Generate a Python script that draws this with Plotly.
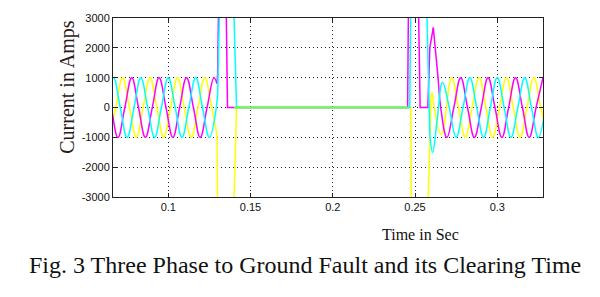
import plotly.graph_objects as go

# ---------------- data ----------------
# Phase "cyan" (steady state before fault, fault transient, after clearing)
cyan_pre_t = [0.0625, 0.0667, 0.0708, 0.0750, 0.0792, 0.0833, 0.0875, 0.0917, 0.0958,
              0.1000, 0.1042, 0.1083, 0.1125, 0.1167, 0.1208, 0.1250, 0.1292]
cyan_pre_i = [0, 1000, 0, -1000, 0, 1000, 0, -1000, 0,
              1000, 0, -1000, 0, 1000, 0, -1000, 0]
cyan_tr_t = [0.1292, 0.1300, 0.1312, 0.1398, 0.1415, 0.2468, 0.2474, 0.2571, 0.2590]
cyan_tr_i = [0, 400, 3400, 3400, 0, 0, 3400, 3400, -900]
cyan_post_t = [0.2590, 0.2607, 0.2635, 0.2667, 0.2708, 0.2750, 0.2792, 0.2833, 0.2875,
               0.2917, 0.2958, 0.3000, 0.3042, 0.3083, 0.3125, 0.3167, 0.3208, 0.3250,
               0.3292]
cyan_post_i = [-900, -1500, -400, 850, 0, -1000, 0, 1000, 0,
               -1000, 0, 1000, 0, -1000, 0, 1000, 0, -1000,
               0]

# Phase "yellow"
yellow_pre_t = [0.0639, 0.0681, 0.0722, 0.0764, 0.0806, 0.0847, 0.0889, 0.0931, 0.0972,
                0.1014, 0.1056, 0.1097, 0.1139, 0.1181, 0.1222, 0.1264, 0.1296]
yellow_pre_i = [-1000, 0, 1000, 0, -1000, 0, 1000, 0, -1000,
                0, 1000, 0, -1000, 0, 1000, 0, -920]
yellow_tr_t = [0.1296, 0.1300, 0.1398, 0.1415, 0.2474, 0.2478, 0.2578, 0.2598, 0.2604]
yellow_tr_i = [-920, -3400, -3400, 0, 0, -3400, -3400, 400, 500]
yellow_post_t = [0.2604, 0.2660, 0.2722, 0.2764, 0.2806, 0.2847, 0.2889, 0.2931, 0.2972,
                 0.3014, 0.3056, 0.3097, 0.3139, 0.3181, 0.3222, 0.3264, 0.3306]
yellow_post_i = [500, -900, 1000, 0, -1000, 0, 1000, 0, -1000,
                 0, 1000, 0, -1000, 0, 1000, 0, -1000]

# Phase "magenta"
magenta_pre_t = [0.0611, 0.0653, 0.0694, 0.0736, 0.0778, 0.0819, 0.0861, 0.0903, 0.0944,
                 0.0986, 0.1028, 0.1069, 0.1111, 0.1153, 0.1194, 0.1236, 0.1278, 0.1296]
magenta_pre_i = [1000, 0, -1000, 0, 1000, 0, -1000, 0, 1000,
                 0, -1000, 0, 1000, 0, -1000, 0, 1000, 800]
magenta_tr_t = [0.1296, 0.1300, 0.1306, 0.1352, 0.1360, 0.2455, 0.2460, 0.2521, 0.2531,
                0.2578, 0.2590, 0.2611]
magenta_tr_i = [800, 1100, 3400, 3400, 0, 0, 3400, 3400, 0,
                0, 2000, 2680]
magenta_post_t = [0.2611, 0.2640, 0.2656, 0.2694, 0.2736, 0.2778, 0.2819, 0.2861, 0.2903,
                  0.2944, 0.2986, 0.3028, 0.3069, 0.3111, 0.3153, 0.3194, 0.3236, 0.3278]
magenta_post_i = [2680, 1000, 0, -1000, 0, 1000, 0, -1000, 0,
                  1000, 0, -1000, 0, 1000, 0, -1000, 0, 1000]

# Zero-current interval (green trace while the breaker is open)
green_t = [0.1400, 0.2462]
green_i = [0, 0]

x_tickvals = [0.1, 0.15, 0.2, 0.25, 0.3]
x_ticktext = ["0.1", "0.15", "0.2", "0.25", "0.3"]
y_tickvals = [3000, 2000, 1000, 0, -1000, -2000, -3000]
y_ticktext = ["3000", "2000", "1000", "0", "-1000", "-2000", "-3000"]

# ---------------- figure ----------------
fig = go.Figure()
W = 1.5
segments = [
    ("#ffff00", yellow_pre_t, yellow_pre_i, "spline", W),
    ("#ffff00", yellow_tr_t, yellow_tr_i, "linear", W),
    ("#ffff00", yellow_post_t, yellow_post_i, "spline", W),
    ("#ff00ff", magenta_pre_t, magenta_pre_i, "spline", W),
    ("#ff00ff", magenta_tr_t, magenta_tr_i, "linear", W),
    ("#ff00ff", magenta_post_t, magenta_post_i, "spline", W),
    ("#00ffff", cyan_pre_t, cyan_pre_i, "spline", W),
    ("#00ffff", cyan_tr_t, cyan_tr_i, "linear", W),
    ("#00ffff", cyan_post_t, cyan_post_i, "spline", W),
    ("#66ff4d", green_t, green_i, "linear", 1.8),
]
for color, t, i, shape, w in segments:
    fig.add_trace(go.Scatter(x=t, y=i, mode="lines", showlegend=False,
                             line=dict(color=color, width=w, shape=shape,
                                       smoothing=1.2 if shape == "spline" else None),
                             hoverinfo="skip"))

axis_common = dict(showline=True, linecolor="#222222", linewidth=1, mirror="ticks",
                   ticks="inside", ticklen=4, tickcolor="#222222",
                   showgrid=True, gridcolor="#222222", griddash="1px,3px", gridwidth=1,
                   zeroline=False,
                   tickfont=dict(family="Liberation Sans, Arial", size=11, color="#111111"))

fig.update_xaxes(range=[0.0664, 0.3278], tickvals=x_tickvals, ticktext=x_ticktext,
                 **axis_common)
fig.update_yaxes(range=[-3000, 3000], tickvals=y_tickvals, ticktext=y_ticktext,
                 **axis_common)

fig.update_layout(
    width=600, height=297,
    margin=dict(l=113, r=57, t=13, b=100),
    paper_bgcolor="white", plot_bgcolor="white",
    annotations=[
        dict(text="Current in Amps", xref="paper", yref="paper", x=-0.105, y=0.615,
             xanchor="center", yanchor="middle",
             textangle=-90, showarrow=False,
             font=dict(family="Liberation Serif, Times New Roman", size=20, color="#2a1a14")),
        dict(text="Time in Sec", xref="paper", yref="paper", x=0.716, y=-0.212,
             xanchor="center", yanchor="middle", showarrow=False,
             font=dict(family="Liberation Serif, Times New Roman", size=16, color="#111111")),
        dict(text="Fig. 3 Three Phase to Ground Fault and its Clearing Time",
             xref="paper", yref="paper", x=0.447, y=-0.38,
             xanchor="center", yanchor="middle", showarrow=False,
             font=dict(family="Liberation Serif, Times New Roman", size=24, color="#111111")),
    ],
)

fig.write_html("out.html")
